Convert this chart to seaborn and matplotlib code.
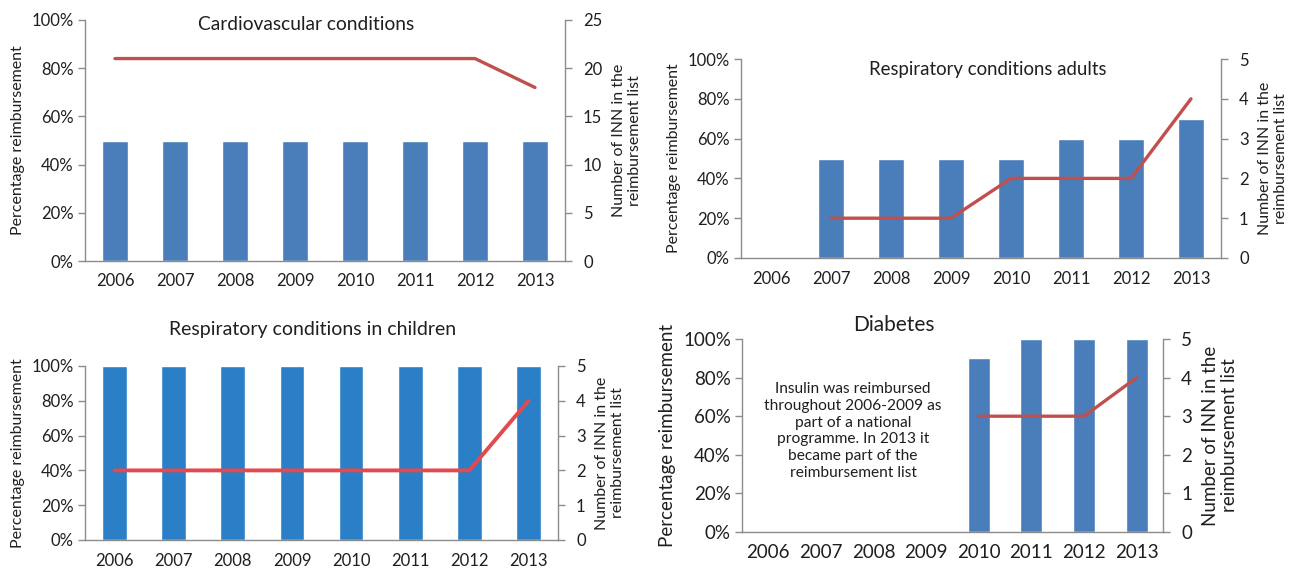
import numpy as np
import pandas as pd
import matplotlib
matplotlib.use("Agg")
import matplotlib.pyplot as plt
import seaborn as sns

# data
years = ["2006", "2007", "2008", "2009", "2010", "2011", "2012", "2013"]

cardio_pct = [50, 50, 50, 50, 50, 50, 50, 50]
cardio_inn = [21, 21, 21, 21, 21, 21, 21, 18]

resp_adult_pct = [np.nan, 50, 50, 50, 50, 60, 60, 70]
resp_adult_inn = [np.nan, 1, 1, 1, 2, 2, 2, 4]

resp_child_pct = [100, 100, 100, 100, 100, 100, 100, 100]
resp_child_inn = [2, 2, 2, 2, 2, 2, 2, 4]

diab_pct = [np.nan, np.nan, np.nan, np.nan, 90, 100, 100, 100]
diab_inn = [np.nan, np.nan, np.nan, np.nan, 3, 3, 3, 4]

titles = ["Cardiovascular conditions", "Respiratory conditions adults",
          "Respiratory conditions in children", "Diabetes"]
left_label = "Percentage reimbursement"
right_label = "Number of INN in the\nreimbursement list"
diab_note = ("Insulin was reimbursed\nthroughout 2006-2009 as\npart of a national\n"
             "programme. In 2013 it\nbecame part of the\nreimbursement list")

sns.set_style("white")
plt.rcParams["font.family"] = ["Lato", "DejaVu Sans"]

W, H = 1292, 571
fig = plt.figure(figsize=(W / 100, H / 100), dpi=100)
fig.patch.set_facecolor("white")

spine_col = "#8c8c8c"
text_col = "#1f1f1f"


def px_axes(x0, x1, y0, y1):
    return fig.add_axes([x0 / W, 1 - y1 / H, (x1 - x0) / W, (y1 - y0) / H])


def panel(ax, pct, inn, rmax, bar_col, line_col, fs, lab_fs, lw):
    df = pd.DataFrame({"year": years, "pct": pct, "inn": inn,
                       "pos": range(len(years))})
    sns.barplot(data=df, x="year", y="pct", order=years, color=bar_col,
                saturation=1, width=0.42, ax=ax)
    ax.set_xlim(-0.5, len(years) - 0.5)
    ax.set_ylim(0, 100)
    ax.set_yticks(range(0, 101, 20))
    ax.set_yticklabels([f"{v}%" for v in range(0, 101, 20)])
    ax.set_xlabel("")
    ax.set_ylabel(left_label, fontsize=lab_fs, color=text_col, labelpad=5)
    ax.set_xticks(np.arange(-0.5, len(years)), minor=True)
    ax.tick_params(axis="x", which="major", length=0, pad=9, labelsize=fs,
                   colors=text_col)
    ax.tick_params(axis="x", which="minor", length=5, color=spine_col,
                   direction="out", width=1)
    ax.tick_params(axis="y", length=5, width=1, color=spine_col,
                   direction="out", labelsize=fs, labelcolor=text_col, pad=3)
    for s in ["top", "right"]:
        ax.spines[s].set_visible(False)
    for s in ["left", "bottom"]:
        ax.spines[s].set_color(spine_col)
        ax.spines[s].set_linewidth(1)

    ax2 = ax.twinx()
    sns.lineplot(data=df.dropna(subset=["inn"]), x="pos", y="inn",
                 color=line_col, linewidth=lw, ax=ax2)
    ax2.set_ylim(0, rmax)
    ax2.set_yticks(np.linspace(0, rmax, 6))
    ax2.set_yticklabels([f"{int(v)}" for v in np.linspace(0, rmax, 6)])
    ax2.set_xlim(-0.5, len(years) - 0.5)
    ax2.set_ylabel(right_label, fontsize=lab_fs, color=text_col,
                   linespacing=1.15, labelpad=7)
    ax2.tick_params(axis="y", length=5, width=1, color=spine_col,
                    direction="out", labelsize=fs, labelcolor=text_col, pad=8)
    for s in ["top", "left", "bottom"]:
        ax2.spines[s].set_visible(False)
    ax2.spines["right"].set_color(spine_col)
    ax2.spines["right"].set_linewidth(1)
    return ax2


blue = "#4a7ebb"
blue2 = "#2a7fc6"
red = "#c0504d"
red2 = "#e24a4f"

ax1 = px_axes(85, 565, 20, 261)
panel(ax1, cardio_pct, cardio_inn, 25, blue, red, 12, 11.5, 2.4)
fig.text(306 / W, 1 - 25 / H, titles[0], ha="center", va="center",
         fontsize=13.8, color=text_col)

ax2 = px_axes(741, 1221, 59, 258)
panel(ax2, resp_adult_pct, resp_adult_inn, 5, blue, red, 12, 11.5, 2.4)
fig.text(988 / W, 1 - 69 / H, titles[1], ha="center", va="center",
         fontsize=13.4, color=text_col)

ax3 = px_axes(85, 558, 366, 540)
panel(ax3, resp_child_pct, resp_child_inn, 5, blue2, red2, 12, 11.5, 2.8)
fig.text(313 / W, 1 - 330 / H, titles[2], ha="center", va="center",
         fontsize=14, color=text_col)

ax4 = px_axes(742, 1163, 339, 532)
panel(ax4, diab_pct, diab_inn, 5, blue, red, 13.5, 13.5, 2.4)
fig.text(894 / W, 1 - 325 / H, titles[3], ha="center", va="center",
         fontsize=15, color=text_col)
fig.text(853 / W, 1 - 431 / H, diab_note, ha="center", va="center",
         fontsize=11.2, color=text_col, linespacing=1.25)

fig.savefig("out.png", dpi=100, facecolor="white")
